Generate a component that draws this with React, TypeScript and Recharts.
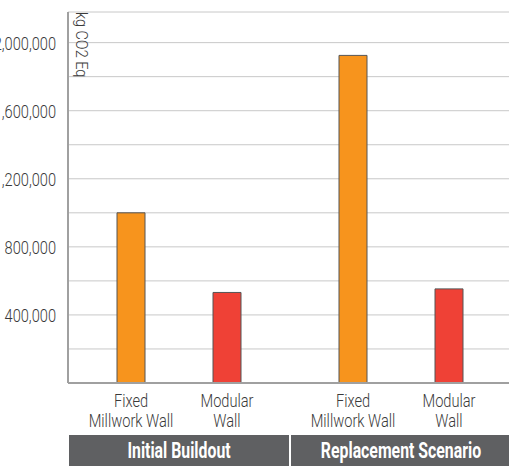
import React from 'react';
import {
  BarChart,
  Bar,
  XAxis,
  YAxis,
  CartesianGrid,
  ReferenceLine,
  Label
} from 'recharts';

const groups = ['Initial Buildout', 'Replacement Scenario'];
const fixedMillwork = [1000000, 1925000];
const modularWall = [532000, 553000];
const wallTypes = [['Fixed', 'Millwork Wall'], ['Modular', 'Wall']];
const yTicks = [0, 200000, 400000, 600000, 800000, 1000000, 1200000, 1400000, 1600000, 1800000, 2000000];
const unitLabel = 'kg CO2 Eq';

const data = groups.map((g, i) => ({
  group: g,
  fixed: fixedMillwork[i],
  modular: modularWall[i]
}));

const FONT = 'Roboto, sans-serif';

// no condensed font installed, so squeeze glyphs horizontally
const Narrow = ({ x, y, sx = 0.77, rotate = 0, children, ...rest }: any) => (
  <g transform={`translate(${x},${y}) rotate(${rotate}) scale(${sx},1)`}>
    <text x={0} y={0} fontFamily={FONT} {...rest}>
      {children}
    </text>
  </g>
);

const GroupTick = (props: any) => {
  const { x, y, payload } = props;
  return (
    <g>
      {wallTypes.map((lines, i) => {
        const cx = x + (i === 0 ? -48 : 48);
        return (
          <g key={i}>
            <Narrow x={cx} y={y + 24} textAnchor="middle" fill="#3a3a3a" fontSize={19} fontWeight={300}>
              {lines[0]}
            </Narrow>
            <Narrow x={cx} y={y + 44} textAnchor="middle" fill="#3a3a3a" fontSize={19} fontWeight={300}>
              {lines[1]}
            </Narrow>
          </g>
        );
      })}
      <rect x={x - 110} y={y + 52} width={220} height={34} fill="#5f6062" />
      <Narrow
        x={x}
        y={y + 75}
        sx={0.72}
        textAnchor="middle"
        fill="#fff"
        fontSize={22}
        fontWeight={700}
      >
        {payload.value}
      </Narrow>
    </g>
  );
};

const YTick = (props: any) => {
  const { x, y, payload } = props;
  const v = payload.value;
  if (!(v > 0 && v % 400000 === 0)) return null;
  return (
    <Narrow x={x} y={y + 7} textAnchor="end" fill="#3a3a3a" fontSize={19} fontWeight={300}>
      {v.toLocaleString('en-US')}
    </Narrow>
  );
};

export default function App() {
  return (
    <div style={{ position: 'absolute', left: 0, top: 0, background: '#fff' }}>
      <BarChart
        width={509}
        height={466}
        data={data}
        margin={{ top: 12, right: -3, left: 0, bottom: 0 }}
        barCategoryGap={49}
        barGap={68}
        barSize={28}
      >
        <CartesianGrid vertical={false} stroke="#c8c8c8" />
        <XAxis
          dataKey="group"
          height={83}
          tickLine={false}
          tickSize={0}
          tickMargin={0}
          axisLine={{ stroke: '#a0a0a0', strokeWidth: 2 }}
          tick={<GroupTick />}
          interval={0}
        />
        <XAxis xAxisId="div" type="number" domain={[0, 2]} hide />
        <YAxis
          width={68}
          domain={[0, 2180000]}
          ticks={yTicks}
          tickLine={false}
          tickMargin={6}
          axisLine={{ stroke: '#a0a0a0', strokeWidth: 2 }}
          tick={<YTick />}
        >
          <Label
            content={({ viewBox }: any) => (
              <Narrow
                x={viewBox.x + viewBox.width + 8}
                y={viewBox.y}
                rotate={90}
                sx={0.85}
                fill="#3a3a3a"
                fontSize={17}
                fontWeight={300}
                textAnchor="start"
              >
                {unitLabel}
              </Narrow>
            )}
          />
        </YAxis>
        <ReferenceLine xAxisId="div" x={1} stroke="#a0a0a0" strokeWidth={1.5} />
        <Bar dataKey="fixed" fill="#f7941d" stroke="#555" strokeWidth={1} isAnimationActive={false} />
        <Bar dataKey="modular" fill="#ef4136" stroke="#555" strokeWidth={1} isAnimationActive={false} />
      </BarChart>
    </div>
  );
}
